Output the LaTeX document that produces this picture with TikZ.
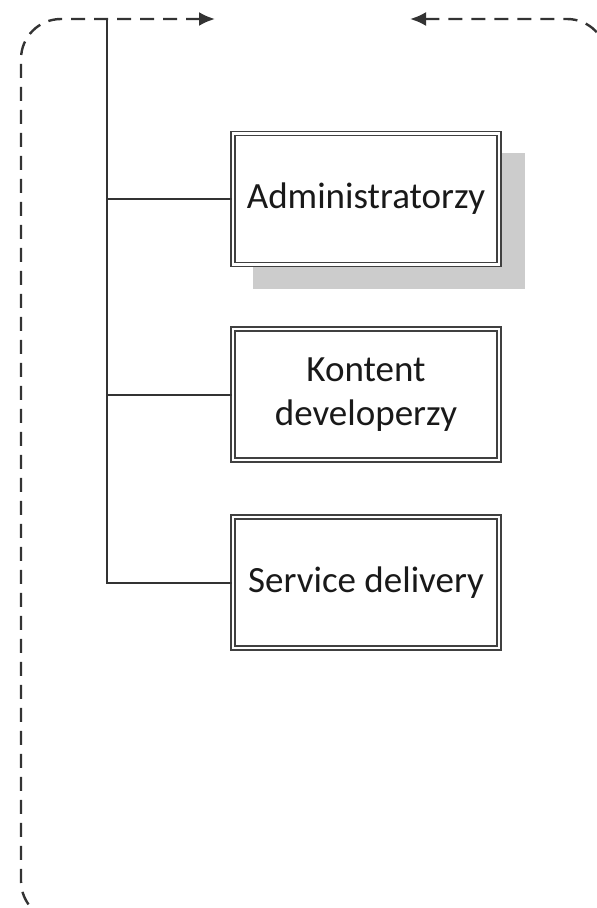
\documentclass[tikz,border=0pt]{standalone}
\usepackage{fontspec}
\setmainfont{Carlito}
\usetikzlibrary{arrows.meta}
\begin{document}
\begin{tikzpicture}[x=1pt,y=-1pt,
  frame/.style={dash pattern=on 14pt off 9pt, line width=2.4pt, draw=black!80},
  tip/.style={Latex[length=16pt,width=14pt,fill=black,color=black]},
  conn/.style={line width=2pt, draw=black!80},
  box/.style={draw=black!75, line width=1.8pt, double=white, double distance=2.2pt,
    fill=white, minimum width=266pt, minimum height=131pt, inner sep=0pt,
    font=\fontsize{37}{44}\selectfont, align=center, text=black!90},
  shade/.style={fill=black!20, draw=none}]
\useasboundingbox (0,0) rectangle (597,908);
\begin{scope}
\clip (0,0) rectangle (597,908);
\draw[frame, rounded corners=40pt, {Latex[length=16pt,width=14pt]}-{Latex[length=16pt,width=14pt]}]
  (215,19) -- (21,19) -- (21,921) -- (607,921) -- (607,19) -- (410,19);
\end{scope}
% shadow
\fill[shade] (253,153) rectangle (525,289);
% boxes
\node[box] (b1) at (366,199) {Administratorzy};
\node[box] (b2) at (366,394.5) {Kontent\\developerzy};
\node[box] (b3) at (366,582.5) {Service delivery};
% connectors
\coordinate (top) at (107,19);
\draw[conn] (top) |- (b3.west);
\draw[conn] (top |- b1.west) -- (b1.west);
\draw[conn] (top |- b2.west) -- (b2.west);
\end{tikzpicture}
\end{document}
